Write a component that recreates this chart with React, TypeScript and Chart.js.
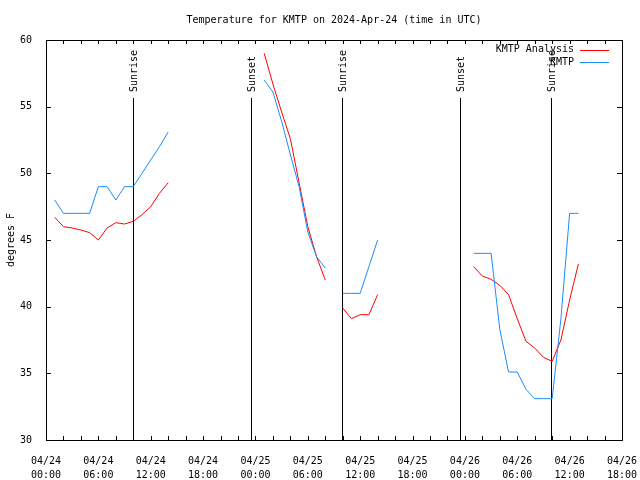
import React, { useEffect, useRef } from 'react';
import { Chart, registerables } from 'chart.js';

Chart.register(...registerables);

const FONT = '"DejaVu Sans Mono", monospace';

const titleText = 'Temperature for KMTP on 2024-Apr-24 (time in UTC)';
const yAxisLabel = 'degrees F';

// hours since 2024-04-24 00:00 UTC (null values break the lines)
const hours = [
  1, 2, 3, 4, 5, 6, 7, 8, 9, 10, 11, 12, 13, 14,
  20,
  25, 26, 27, 28, 29, 30, 31, 32,
  33,
  34, 35, 36, 37, 38,
  44,
  49, 50, 51, 52, 53, 54, 55, 56, 57, 58, 59, 60, 61,
];

const analysisTemps = [
  46.7, 46.0, 45.9, 45.75, 45.55, 45.0, 45.9, 46.3, 46.2, 46.4, 46.9, 47.5, 48.5, 49.3,
  null,
  59.0, 56.7, 54.6, 52.6, 49.3, 46.0, 43.75, 42.0,
  null,
  39.9, 39.1, 39.4, 39.4, 40.9,
  null,
  43.0, 42.3, 42.05, 41.6, 40.9, 39.1, 37.4, 36.9, 36.2, 35.9, 37.5, 40.5, 43.2,
];

const observedTemps = [
  48.0, 47.0, 47.0, 47.0, 47.0, 49.0, 49.0, 48.0, 49.0, 49.0, 50.0, 51.0, 52.0, 53.1,
  null,
  57.0, 56.1, 53.9, 51.4, 49.0, 45.6, 43.75, 42.9,
  null,
  41.0, 41.0, 41.0, 43.0, 45.0,
  null,
  44.0, 44.0, 44.0, 38.3, 35.1, 35.1, 33.8, 33.1, 33.1, 33.1, 39.1, 47.0, 47.0,
];

const sunTimes = [10, 23.5, 33.95, 47.45, 57.9];
const sunLabels = ['Sunrise', 'Sunset', 'Sunrise', 'Sunset', 'Sunrise'];

const seriesNames = ['KMTP Analysis', 'KMTP'];
const seriesColors = ['#ff0000', '#1a8cff'];

const X_MIN = 0;
const X_MAX = 66;
const Y_MIN = 30;
const Y_MAX = 60;

function pad2(n: number) {
  return (n < 10 ? '0' : '') + n;
}

const sunPlugin = {
  id: 'sunLines',
  beforeDatasetsDraw(chart: any) {
    const ctx = chart.ctx;
    const xs = chart.scales.x;
    const { top, bottom } = chart.chartArea;
    ctx.save();
    ctx.strokeStyle = '#000';
    ctx.lineWidth = 1;
    ctx.fillStyle = '#000';
    ctx.font = '10px ' + FONT;
    sunTimes.forEach((t, i) => {
      const px = Math.round(xs.getPixelForValue(t)) + 0.5;
      ctx.beginPath();
      ctx.moveTo(px, top + 58);
      ctx.lineTo(px, bottom);
      ctx.stroke();
      ctx.save();
      ctx.translate(px + 1, top + 52);
      ctx.rotate(-Math.PI / 2);
      ctx.textAlign = 'left';
      ctx.textBaseline = 'middle';
      ctx.fillText(sunLabels[i], 0, 0);
      ctx.restore();
    });
    ctx.restore();
  },
};

const framePlugin = {
  id: 'frameTicks',
  afterDatasetsDraw(chart: any) {
    const ctx = chart.ctx;
    const xs = chart.scales.x;
    const ys = chart.scales.y;
    const { left, right, top, bottom } = chart.chartArea;
    ctx.save();
    ctx.strokeStyle = '#000';
    ctx.lineWidth = 1;
    ctx.beginPath();
    xs.ticks.forEach((t: any) => {
      const p = Math.round(xs.getPixelForValue(t.value)) + 0.5;
      ctx.moveTo(p, bottom);
      ctx.lineTo(p, bottom - 4);
      ctx.moveTo(p, top);
      ctx.lineTo(p, top + 4);
    });
    ys.ticks.forEach((t: any) => {
      const p = Math.round(ys.getPixelForValue(t.value)) + 0.5;
      ctx.moveTo(left, p);
      ctx.lineTo(left + 5, p);
      ctx.moveTo(right, p);
      ctx.lineTo(right - 5, p);
    });
    ctx.stroke();
    ctx.strokeRect(Math.round(left) + 0.5, Math.round(top) + 0.5, Math.round(right - left), Math.round(bottom - top));
    ctx.restore();
  },
};

const legendPlugin = {
  id: 'rightLegend',
  afterDraw(chart: any) {
    const ctx = chart.ctx;
    const { right, top } = chart.chartArea;
    ctx.save();
    ctx.font = '10px ' + FONT;
    ctx.textAlign = 'right';
    ctx.textBaseline = 'middle';
    seriesNames.forEach((name, i) => {
      const y = top + 9.5 + i * 12.5;
      ctx.fillStyle = '#000';
      ctx.fillText(name, right - 48, y);
      ctx.strokeStyle = seriesColors[i];
      ctx.lineWidth = 1;
      ctx.beginPath();
      const ly = Math.round(y) + 0.5;
      ctx.moveTo(right - 42, ly);
      ctx.lineTo(right - 13, ly);
      ctx.stroke();
    });
    ctx.restore();
  },
};

export default function App() {
  const canvasRef = useRef<HTMLCanvasElement | null>(null);

  useEffect(() => {
    document.body.style.margin = '0';
    const canvas = canvasRef.current;
    if (!canvas) return;

    const toPoints = (vals: (number | null)[]) =>
      hours.map((h, i) => ({ x: h, y: vals[i] }));

    const chart = new Chart(canvas, {
      type: 'line',
      data: {
        datasets: [
          {
            label: seriesNames[0],
            data: toPoints(analysisTemps) as any,
            borderColor: seriesColors[0],
            backgroundColor: seriesColors[0],
            borderWidth: 1,
            pointRadius: 0,
            tension: 0,
            spanGaps: false,
            order: 1,
          },
          {
            label: seriesNames[1],
            data: toPoints(observedTemps) as any,
            borderColor: seriesColors[1],
            backgroundColor: seriesColors[1],
            borderWidth: 1,
            pointRadius: 0,
            tension: 0,
            spanGaps: false,
            order: 0,
          },
        ],
      },
      options: {
        animation: false,
        responsive: false,
        maintainAspectRatio: false,
        layout: { padding: { left: 0, right: 18, top: 0, bottom: 0 } },
        plugins: {
          legend: { display: false },
          tooltip: { enabled: false },
          title: {
            display: true,
            text: titleText,
            color: '#000',
            fullSize: false,
            font: { family: FONT, size: 10, weight: 'normal', lineHeight: 1.2 },
            padding: { top: 14, bottom: 14 },
          },
        },
        scales: {
          x: {
            type: 'linear',
            min: X_MIN,
            max: X_MAX,
            grid: { display: false },
            border: { display: false },
            ticks: {
              stepSize: 2,
              autoSkip: false,
              maxRotation: 0,
              minRotation: 0,
              padding: 7,
              color: '#000',
              font: { family: FONT, size: 10, lineHeight: 1.35 },
              callback: (value: any) => {
                const v = Number(value);
                if (v % 6 !== 0) return '';
                const day = 24 + Math.floor(v / 24);
                const hh = v % 24;
                return ['04/' + pad2(day), pad2(hh) + ':00'];
              },
            },
            afterFit: (scale: any) => {
              scale.height = 40;
              scale.paddingLeft = 0;
              scale.paddingRight = 0;
            },
          },
          y: {
            type: 'linear',
            min: Y_MIN,
            max: Y_MAX,
            grid: { display: false },
            border: { display: false },
            title: {
              display: true,
              text: yAxisLabel,
              color: '#000',
              font: { family: FONT, size: 10, lineHeight: 1.2 },
              padding: { top: 5, bottom: 0 },
            },
            ticks: {
              stepSize: 5,
              padding: 6,
              color: '#000',
              font: { family: FONT, size: 10 },
            },
            afterFit: (scale: any) => {
              scale.width = 46;
              scale.paddingTop = 0;
              scale.paddingBottom = 0;
            },
          },
        },
      },
      plugins: [sunPlugin, framePlugin, legendPlugin],
    });

    return () => {
      chart.destroy();
    };
  }, []);

  return (
    <div style={{ width: 640, height: 480 }}>
      <canvas ref={canvasRef} width={640} height={480} style={{ display: 'block' }} />
    </div>
  );
}
